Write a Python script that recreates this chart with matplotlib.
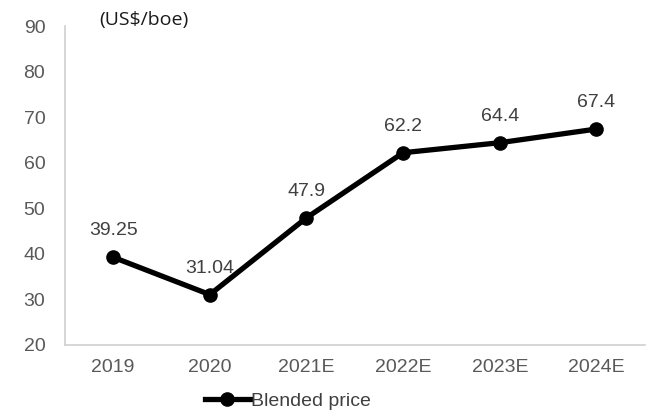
import matplotlib.pyplot as plt

years = ["2019", "2020", "2021E", "2022E", "2023E", "2024E"]
prices = [39.25, 31.04, 47.9, 62.2, 64.4, 67.4]
labels = ["39.25", "31.04", "47.9", "62.2", "64.4", "67.4"]

plt.rcParams['font.family'] = ['Liberation Sans', 'DejaVu Sans']

fig = plt.figure(figsize=(6.48, 4.15), dpi=100)
ax = fig.add_axes([0.10, 0.169, 0.895, 0.768])

x = range(len(years))
ax.plot(x, prices, color='black', lw=3.8, marker='o', markersize=9.5,
        label='Blended price')
for i, (v, t) in enumerate(zip(prices, labels)):
    ax.annotate(t, (i, v), xytext=(0, 13), textcoords='offset points',
                ha='center', va='bottom', fontsize=14, color='#404040')

ax.set_xlim(-0.5, len(years) - 0.5)
ax.set_ylim(20, 90)
ax.set_yticks(range(20, 91, 10))
ax.set_xticks(list(x))
ax.set_xticklabels(years)
ax.tick_params(axis='both', length=0, labelsize=14, labelcolor='#595959')
ax.tick_params(axis='x', pad=10)
ax.tick_params(axis='y', pad=14)

for s in ['top', 'right']:
    ax.spines[s].set_visible(False)
for s in ['left', 'bottom']:
    ax.spines[s].set_color('#d0d0d0')
    ax.spines[s].set_linewidth(1.2)

ax.text(-0.14, 91.3, "(US$/boe)", fontsize=14, family=['Open Sans', 'DejaVu Sans'],
        va='center', ha='left', color='#1a1a1a')

ax.legend(loc='upper center', bbox_to_anchor=(0.385, -0.125), frameon=False,
          borderaxespad=0, fontsize=14, handlelength=2.3, handletextpad=0.1,
          labelcolor='#404040')

fig.savefig('out.png', dpi=100)
